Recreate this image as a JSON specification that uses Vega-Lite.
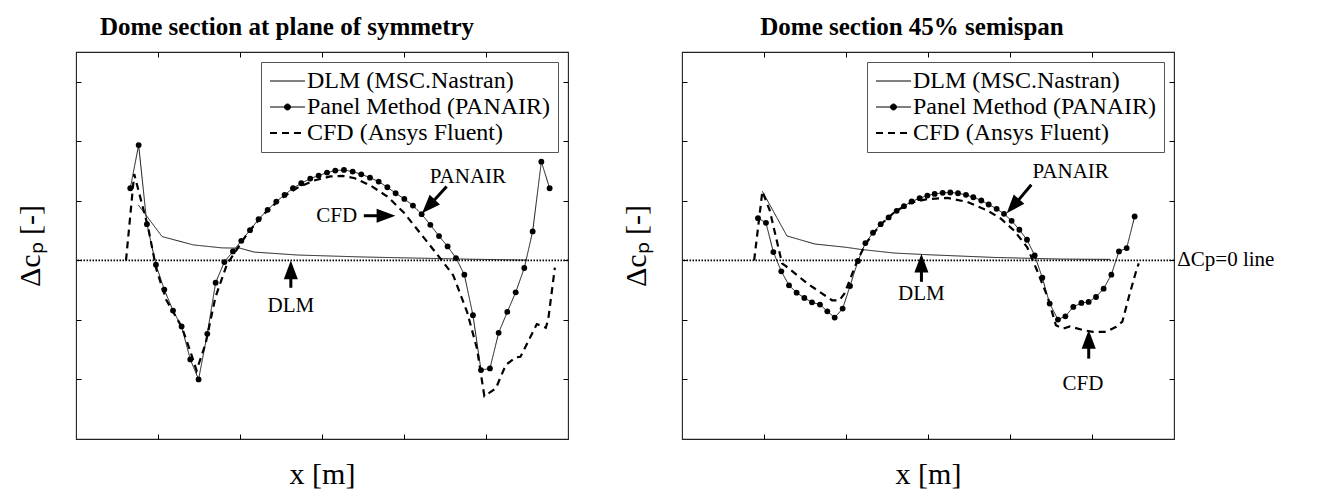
{
  "$schema": "https://vega.github.io/schema/vega-lite/v6.json",
  "background": "white",
  "padding": {"left": 14, "top": 13, "right": 5, "bottom": 5},
  "datasets": {
    "curves": [
      {"panel":"sym","series":"DLM","x":0.76,"y":0.93},{"panel":"sym","series":"DLM","x":1.05,"y":0.40},{"panel":"sym","series":"DLM","x":1.43,"y":0.26},{"panel":"sym","series":"DLM","x":1.78,"y":0.21},{"panel":"sym","series":"DLM","x":2.0,"y":0.205},{"panel":"sym","series":"DLM","x":2.17,"y":0.14},{"panel":"sym","series":"DLM","x":2.7,"y":0.09},{"panel":"sym","series":"DLM","x":3.5,"y":0.057},{"panel":"sym","series":"DLM","x":4.1,"y":0.04},{"panel":"sym","series":"DLM","x":4.8,"y":0.02},{"panel":"sym","series":"DLM","x":5.5,"y":0.005},
      {"panel":"sym","series":"PANAIR","x":0.662,"y":1.212},{"panel":"sym","series":"PANAIR","x":0.764,"y":1.937},{"panel":"sym","series":"PANAIR","x":0.865,"y":0.609},{"panel":"sym","series":"PANAIR","x":0.975,"y":-0.073},{"panel":"sym","series":"PANAIR","x":1.077,"y":-0.491},{"panel":"sym","series":"PANAIR","x":1.183,"y":-0.843},{"panel":"sym","series":"PANAIR","x":1.288,"y":-1.111},{"panel":"sym","series":"PANAIR","x":1.394,"y":-1.664},{"panel":"sym","series":"PANAIR","x":1.495,"y":-1.999},{"panel":"sym","series":"PANAIR","x":1.601,"y":-1.234},{"panel":"sym","series":"PANAIR","x":1.703,"y":-0.374},{"panel":"sym","series":"PANAIR","x":1.809,"y":-0.028},{"panel":"sym","series":"PANAIR","x":1.914,"y":0.151},{"panel":"sym","series":"PANAIR","x":2.016,"y":0.329},{"panel":"sym","series":"PANAIR","x":2.122,"y":0.508},{"panel":"sym","series":"PANAIR","x":2.227,"y":0.692},{"panel":"sym","series":"PANAIR","x":2.337,"y":0.849},{"panel":"sym","series":"PANAIR","x":2.443,"y":0.988},{"panel":"sym","series":"PANAIR","x":2.544,"y":1.1},{"panel":"sym","series":"PANAIR","x":2.646,"y":1.212},{"panel":"sym","series":"PANAIR","x":2.747,"y":1.295},{"panel":"sym","series":"PANAIR","x":2.857,"y":1.374},{"panel":"sym","series":"PANAIR","x":2.959,"y":1.424},{"panel":"sym","series":"PANAIR","x":3.061,"y":1.474},{"panel":"sym","series":"PANAIR","x":3.162,"y":1.508},{"panel":"sym","series":"PANAIR","x":3.268,"y":1.519},{"panel":"sym","series":"PANAIR","x":3.374,"y":1.491},{"panel":"sym","series":"PANAIR","x":3.479,"y":1.446},{"panel":"sym","series":"PANAIR","x":3.585,"y":1.39},{"panel":"sym","series":"PANAIR","x":3.691,"y":1.323},{"panel":"sym","series":"PANAIR","x":3.797,"y":1.228},{"panel":"sym","series":"PANAIR","x":3.898,"y":1.128},{"panel":"sym","series":"PANAIR","x":4.004,"y":1.033},{"panel":"sym","series":"PANAIR","x":4.109,"y":0.921},{"panel":"sym","series":"PANAIR","x":4.215,"y":0.776},{"panel":"sym","series":"PANAIR","x":4.321,"y":0.597},{"panel":"sym","series":"PANAIR","x":4.427,"y":0.408},{"panel":"sym","series":"PANAIR","x":4.532,"y":0.235},{"panel":"sym","series":"PANAIR","x":4.634,"y":0.039},{"panel":"sym","series":"PANAIR","x":4.736,"y":-0.24},{"panel":"sym","series":"PANAIR","x":4.841,"y":-0.921},{"panel":"sym","series":"PANAIR","x":4.939,"y":-1.843},{"panel":"sym","series":"PANAIR","x":5.048,"y":-1.815},{"panel":"sym","series":"PANAIR","x":5.154,"y":-1.217},{"panel":"sym","series":"PANAIR","x":5.26,"y":-0.865},{"panel":"sym","series":"PANAIR","x":5.362,"y":-0.536},{"panel":"sym","series":"PANAIR","x":5.467,"y":-0.128},{"panel":"sym","series":"PANAIR","x":5.569,"y":0.486},{"panel":"sym","series":"PANAIR","x":5.675,"y":1.658},{"panel":"sym","series":"PANAIR","x":5.776,"y":1.212},
      {"panel":"sym","series":"CFD","x":0.61,"y":0},{"panel":"sym","series":"CFD","x":0.71,"y":1.45},{"panel":"sym","series":"CFD","x":0.88,"y":0.55},{"panel":"sym","series":"CFD","x":0.98,"y":-0.15},{"panel":"sym","series":"CFD","x":1.1,"y":-0.66},{"panel":"sym","series":"CFD","x":1.29,"y":-1.12},{"panel":"sym","series":"CFD","x":1.4,"y":-1.55},{"panel":"sym","series":"CFD","x":1.47,"y":-1.85},{"panel":"sym","series":"CFD","x":1.58,"y":-1.4},{"panel":"sym","series":"CFD","x":1.7,"y":-0.62},{"panel":"sym","series":"CFD","x":1.84,"y":-0.07},{"panel":"sym","series":"CFD","x":1.95,"y":0.16},{"panel":"sym","series":"CFD","x":2.1,"y":0.47},{"panel":"sym","series":"CFD","x":2.3,"y":0.79},{"panel":"sym","series":"CFD","x":2.5,"y":1.04},{"panel":"sym","series":"CFD","x":2.7,"y":1.22},{"panel":"sym","series":"CFD","x":2.9,"y":1.34},{"panel":"sym","series":"CFD","x":3.1,"y":1.41},{"panel":"sym","series":"CFD","x":3.25,"y":1.42},{"panel":"sym","series":"CFD","x":3.4,"y":1.38},{"panel":"sym","series":"CFD","x":3.6,"y":1.25},{"panel":"sym","series":"CFD","x":3.8,"y":1.07},{"panel":"sym","series":"CFD","x":4.0,"y":0.8},{"panel":"sym","series":"CFD","x":4.22,"y":0.42},{"panel":"sym","series":"CFD","x":4.45,"y":0.02},{"panel":"sym","series":"CFD","x":4.6,"y":-0.25},{"panel":"sym","series":"CFD","x":4.77,"y":-0.87},{"panel":"sym","series":"CFD","x":4.89,"y":-1.48},{"panel":"sym","series":"CFD","x":4.98,"y":-2.28},{"panel":"sym","series":"CFD","x":5.12,"y":-2.15},{"panel":"sym","series":"CFD","x":5.24,"y":-1.76},{"panel":"sym","series":"CFD","x":5.36,"y":-1.63},{"panel":"sym","series":"CFD","x":5.42,"y":-1.62},{"panel":"sym","series":"CFD","x":5.62,"y":-1.07},{"panel":"sym","series":"CFD","x":5.73,"y":-1.13},{"panel":"sym","series":"CFD","x":5.76,"y":-0.98},{"panel":"sym","series":"CFD","x":5.84,"y":-0.12},
      {"panel":"semi","series":"DLM","x":0.98,"y":1.16},{"panel":"semi","series":"DLM","x":1.28,"y":0.41},{"panel":"semi","series":"DLM","x":1.62,"y":0.275},{"panel":"semi","series":"DLM","x":2.0,"y":0.22},{"panel":"semi","series":"DLM","x":2.18,"y":0.184},{"panel":"semi","series":"DLM","x":2.59,"y":0.123},{"panel":"semi","series":"DLM","x":3.0,"y":0.095},{"panel":"semi","series":"DLM","x":3.8,"y":0.05},{"panel":"semi","series":"DLM","x":4.62,"y":0.022},{"panel":"semi","series":"DLM","x":5.22,"y":0.017},
      {"panel":"semi","series":"PANAIR","x":0.927,"y":0.709},{"panel":"semi","series":"PANAIR","x":1.024,"y":0.631},{"panel":"semi","series":"PANAIR","x":1.114,"y":0.14},{"panel":"semi","series":"PANAIR","x":1.211,"y":-0.184},{"panel":"semi","series":"PANAIR","x":1.305,"y":-0.419},{"panel":"semi","series":"PANAIR","x":1.398,"y":-0.542},{"panel":"semi","series":"PANAIR","x":1.492,"y":-0.631},{"panel":"semi","series":"PANAIR","x":1.585,"y":-0.704},{"panel":"semi","series":"PANAIR","x":1.683,"y":-0.743},{"panel":"semi","series":"PANAIR","x":1.772,"y":-0.855},{"panel":"semi","series":"PANAIR","x":1.862,"y":-0.961},{"panel":"semi","series":"PANAIR","x":1.959,"y":-0.81},{"panel":"semi","series":"PANAIR","x":2.049,"y":-0.43},{"panel":"semi","series":"PANAIR","x":2.146,"y":-0.011},{"panel":"semi","series":"PANAIR","x":2.236,"y":0.291},{"panel":"semi","series":"PANAIR","x":2.329,"y":0.464},{"panel":"semi","series":"PANAIR","x":2.423,"y":0.609},{"panel":"semi","series":"PANAIR","x":2.52,"y":0.721},{"panel":"semi","series":"PANAIR","x":2.618,"y":0.832},{"panel":"semi","series":"PANAIR","x":2.707,"y":0.911},{"panel":"semi","series":"PANAIR","x":2.801,"y":0.989},{"panel":"semi","series":"PANAIR","x":2.898,"y":1.045},{"panel":"semi","series":"PANAIR","x":2.992,"y":1.089},{"panel":"semi","series":"PANAIR","x":3.081,"y":1.117},{"panel":"semi","series":"PANAIR","x":3.179,"y":1.134},{"panel":"semi","series":"PANAIR","x":3.272,"y":1.14},{"panel":"semi","series":"PANAIR","x":3.366,"y":1.128},{"panel":"semi","series":"PANAIR","x":3.463,"y":1.101},{"panel":"semi","series":"PANAIR","x":3.553,"y":1.061},{"panel":"semi","series":"PANAIR","x":3.65,"y":1.006},{"panel":"semi","series":"PANAIR","x":3.74,"y":0.939},{"panel":"semi","series":"PANAIR","x":3.837,"y":0.866},{"panel":"semi","series":"PANAIR","x":3.927,"y":0.782},{"panel":"semi","series":"PANAIR","x":4.02,"y":0.665},{"panel":"semi","series":"PANAIR","x":4.114,"y":0.514},{"panel":"semi","series":"PANAIR","x":4.207,"y":0.346},{"panel":"semi","series":"PANAIR","x":4.301,"y":0.084},{"panel":"semi","series":"PANAIR","x":4.394,"y":-0.291},{"panel":"semi","series":"PANAIR","x":4.484,"y":-0.726},{"panel":"semi","series":"PANAIR","x":4.585,"y":-0.994},{"panel":"semi","series":"PANAIR","x":4.675,"y":-0.939},{"panel":"semi","series":"PANAIR","x":4.772,"y":-0.782},{"panel":"semi","series":"PANAIR","x":4.87,"y":-0.715},{"panel":"semi","series":"PANAIR","x":4.959,"y":-0.698},{"panel":"semi","series":"PANAIR","x":5.049,"y":-0.615},{"panel":"semi","series":"PANAIR","x":5.142,"y":-0.475},{"panel":"semi","series":"PANAIR","x":5.236,"y":-0.24},{"panel":"semi","series":"PANAIR","x":5.329,"y":0.151},{"panel":"semi","series":"PANAIR","x":5.423,"y":0.207},{"panel":"semi","series":"PANAIR","x":5.52,"y":0.737},
      {"panel":"semi","series":"CFD","x":0.88,"y":0},{"panel":"semi","series":"CFD","x":0.98,"y":1.16},{"panel":"semi","series":"CFD","x":1.07,"y":0.84},{"panel":"semi","series":"CFD","x":1.22,"y":-0.05},{"panel":"semi","series":"CFD","x":1.29,"y":-0.12},{"panel":"semi","series":"CFD","x":1.53,"y":-0.39},{"panel":"semi","series":"CFD","x":1.83,"y":-0.67},{"panel":"semi","series":"CFD","x":1.92,"y":-0.67},{"panel":"semi","series":"CFD","x":1.98,"y":-0.56},{"panel":"semi","series":"CFD","x":2.06,"y":-0.28},{"panel":"semi","series":"CFD","x":2.14,"y":0.0},{"panel":"semi","series":"CFD","x":2.24,"y":0.28},{"panel":"semi","series":"CFD","x":2.42,"y":0.6},{"panel":"semi","series":"CFD","x":2.6,"y":0.82},{"panel":"semi","series":"CFD","x":2.79,"y":0.97},{"panel":"semi","series":"CFD","x":2.99,"y":1.03},{"panel":"semi","series":"CFD","x":3.24,"y":1.05},{"panel":"semi","series":"CFD","x":3.48,"y":0.98},{"panel":"semi","series":"CFD","x":3.72,"y":0.84},{"panel":"semi","series":"CFD","x":3.89,"y":0.7},{"panel":"semi","series":"CFD","x":4.05,"y":0.5},{"panel":"semi","series":"CFD","x":4.21,"y":0.22},{"panel":"semi","series":"CFD","x":4.33,"y":-0.17},{"panel":"semi","series":"CFD","x":4.46,"y":-0.62},{"panel":"semi","series":"CFD","x":4.56,"y":-1.09},{"panel":"semi","series":"CFD","x":4.65,"y":-1.145},{"panel":"semi","series":"CFD","x":4.73,"y":-1.11},{"panel":"semi","series":"CFD","x":4.89,"y":-1.17},{"panel":"semi","series":"CFD","x":5.01,"y":-1.2},{"panel":"semi","series":"CFD","x":5.17,"y":-1.2},{"panel":"semi","series":"CFD","x":5.29,"y":-1.12},{"panel":"semi","series":"CFD","x":5.37,"y":-1.03},{"panel":"semi","series":"CFD","x":5.45,"y":-0.61},{"panel":"semi","series":"CFD","x":5.53,"y":-0.22},{"panel":"semi","series":"CFD","x":5.57,"y":-0.05}
    ],
    "notes": [
      {"panel":"sym","kind":"text","label":"PANAIR","x":4.78,"y":1.40},
      {"panel":"sym","kind":"text","label":"CFD","x":3.18,"y":0.75},
      {"panel":"sym","kind":"text","label":"DLM","x":2.62,"y":-0.76},
      {"panel":"semi","kind":"text","label":"PANAIR","x":4.74,"y":1.48},
      {"panel":"semi","kind":"text","label":"DLM","x":2.92,"y":-0.57},
      {"panel":"semi","kind":"text","label":"CFD","x":4.89,"y":-2.08},
      {"panel":"sym","kind":"shaft","x":4.52,"y":1.24,"x2":4.287,"y2":0.888},
      {"panel":"sym","kind":"shaft","x":3.51,"y":0.75,"x2":3.795,"y2":0.75},
      {"panel":"sym","kind":"shaft","x":2.62,"y":-0.46,"x2":2.62,"y2":-0.134},
      {"panel":"semi","kind":"shaft","x":4.26,"y":1.27,"x2":4.027,"y2":0.888},
      {"panel":"semi","kind":"shaft","x":2.92,"y":-0.36,"x2":2.92,"y2":-0.024},
      {"panel":"semi","kind":"shaft","x":4.96,"y":-1.65,"x2":4.96,"y2":-1.304},
      {"panel":"sym","kind":"head","dir":"downleft","x":4.22,"y":0.79},
      {"panel":"sym","kind":"head","dir":"right","x":3.895,"y":0.75},
      {"panel":"sym","kind":"head","dir":"up","x":2.62,"y":0.0},
      {"panel":"semi","kind":"head","dir":"downleft","x":3.96,"y":0.79},
      {"panel":"semi","kind":"head","dir":"up","x":2.92,"y":0.11},
      {"panel":"semi","kind":"head","dir":"up","x":4.96,"y":-1.17}
    ]
  },
  "hconcat": [
    {
      "width": 492, "height": 387,
      "title": {"text": "Dome section at plane of symmetry", "font": "Liberation Serif", "fontSize": 25, "fontWeight": "bold", "color": "black", "anchor": "middle", "dx": -35, "offset": 12},
      "layer": [
        {
          "encoding": {
            "x": {"field": "x", "type": "quantitative", "scale": {"domain": [0, 6], "nice": false, "zero": false}, "axis": {"values": [1,2,3,4,5], "title": "x [m]", "titlePadding": 20}},
            "y": {"field": "y", "type": "quantitative", "scale": {"domain": [-3, 3.5], "nice": false, "zero": false}, "axis": {"values": [-2,-1,0,1,2,3], "title": "Δcₚ [-]", "titlePadding": 30}}
          },
          "layer": [
            {"data": {"values": [{"y": 0}]}, "mark": {"type": "rule", "color": "black", "strokeDash": [1.5, 1.5], "strokeWidth": 1.6}, "encoding": {"x": null}},
            {"data": {"name": "curves"}, "transform": [{"filter": "datum.panel === 'sym' && datum.series !== 'CFD'"}],
             "mark": {"type": "line", "color": "black", "strokeWidth": 0.9},
             "encoding": {
               "strokeDash": {"field": "series", "type": "nominal", "scale": {"domain": ["DLM", "PANAIR", "CFD"], "range": [[1, 0], [1, 0], [7, 5]]},
                 "legend": {"title": null, "orient": "top-right", "offset": 10, "padding": 7, "strokeColor": "#555", "fillColor": "white", "labelFont": "Liberation Serif", "labelFontSize": 24, "labelColor": "black", "labelOffset": 15, "labelLimit": 500, "rowPadding": 2, "symbolSize": 400, "symbolStrokeColor": "black", "symbolStrokeWidth": 1,
                   "labelExpr": "datum.label === 'DLM' ? 'DLM (MSC.Nastran)' : datum.label === 'PANAIR' ? 'Panel Method (PANAIR)' : 'CFD (Ansys Fluent)'",
                   "encode": {"symbols": {"update": {
                     "shape": {"signal": "datum.value === 'PANAIR' ? 'M-1,0H2.5M1.05,0A0.3,0.3,0,1,1,0.45,0A0.3,0.3,0,1,1,1.05,0Z' : 'M-1,0H2.5'"},
                     "fill": {"value": "black"},
                     "stroke": {"value": "black"},
                     "opacity": {"value": 1},
                     "strokeOpacity": {"value": 1},
                     "strokeWidth": {"signal": "datum.value === 'CFD' ? 2.2 : 1"}}}}}}
             }},
            {"data": {"name": "curves"}, "transform": [{"filter": "datum.panel === 'sym' && datum.series === 'CFD'"}],
             "mark": {"type": "line", "color": "black", "strokeWidth": 2.2, "strokeDash": [7, 5], "strokeCap": "butt"}},
            {"data": {"name": "curves"}, "transform": [{"filter": "datum.panel === 'sym' && datum.series === 'PANAIR'"}],
             "mark": {"type": "point", "filled": true, "color": "black", "size": 34, "opacity": 1}},
            {"data": {"name": "notes"}, "transform": [{"filter": "datum.panel === 'sym' && datum.kind === 'shaft'"}],
             "mark": {"type": "rule", "color": "black", "strokeWidth": 3},
             "encoding": {"x2": {"field": "x2"}, "y2": {"field": "y2"}}},
            {"data": {"name": "notes"}, "transform": [{"filter": "datum.panel === 'sym' && datum.dir === 'up'"}],
             "mark": {"type": "point", "shape": "M0,0L0.6,1.6L-0.6,1.6Z", "size": 550, "filled": true, "color": "black", "opacity": 1, "angle": 0}},
            {"data": {"name": "notes"}, "transform": [{"filter": "datum.panel === 'sym' && datum.dir === 'right'"}],
             "mark": {"type": "point", "shape": "M0,0L0.6,1.6L-0.6,1.6Z", "size": 550, "filled": true, "color": "black", "opacity": 1, "angle": 90}},
            {"data": {"name": "notes"}, "transform": [{"filter": "datum.panel === 'sym' && datum.dir === 'downleft'"}],
             "mark": {"type": "point", "shape": "M0,0L0.6,1.6L-0.6,1.6Z", "size": 550, "filled": true, "color": "black", "opacity": 1, "angle": 223}},
            {"data": {"name": "notes"}, "transform": [{"filter": "datum.panel === 'sym' && datum.kind === 'text'"}],
             "mark": {"type": "text", "font": "Liberation Serif", "fontSize": 21, "color": "black", "align": "center", "baseline": "middle"},
             "encoding": {"text": {"field": "label"}}}
          ]
        },
        {
          "data": {"values": [{"x": 3, "y": 0}]},
          "mark": {"type": "point", "opacity": 0},
          "encoding": {
            "x": {"field": "x", "type": "quantitative", "scale": {"domain": [0, 6], "nice": false, "zero": false}, "axis": {"orient": "top", "values": [1,2,3,4,5], "title": null}},
            "y": {"field": "y", "type": "quantitative", "scale": {"domain": [-3, 3.5], "nice": false, "zero": false}, "axis": {"orient": "right", "values": [-2,-1,0,1,2,3], "title": null}}
          }
        }
      ],
      "resolve": {"axis": {"x": "independent", "y": "independent"}}
    },
    {
      "width": 492, "height": 387,
      "title": {"text": "Dome section 45% semispan", "font": "Liberation Serif", "fontSize": 25, "fontWeight": "bold", "color": "black", "anchor": "middle", "dx": -16, "offset": 12},
      "layer": [
        {
          "encoding": {
            "x": {"field": "x", "type": "quantitative", "scale": {"domain": [0, 6], "nice": false, "zero": false}, "axis": {"values": [1,2,3,4,5], "title": "x [m]", "titlePadding": 20}},
            "y": {"field": "y", "type": "quantitative", "scale": {"domain": [-3, 3.5], "nice": false, "zero": false}, "axis": {"values": [-2,-1,0,1,2,3], "title": "Δcₚ [-]", "titlePadding": 30}}
          },
          "layer": [
            {"data": {"values": [{"y": 0}]}, "mark": {"type": "rule", "color": "black", "strokeDash": [1.5, 1.5], "strokeWidth": 1.6}, "encoding": {"x": null}},
            {"data": {"name": "curves"}, "transform": [{"filter": "datum.panel === 'semi' && datum.series !== 'CFD'"}],
             "mark": {"type": "line", "color": "black", "strokeWidth": 0.9},
             "encoding": {
               "strokeDash": {"field": "series", "type": "nominal", "scale": {"domain": ["DLM", "PANAIR", "CFD"], "range": [[1, 0], [1, 0], [7, 5]]},
                 "legend": {"title": null, "orient": "top-right", "offset": 10, "padding": 7, "strokeColor": "#555", "fillColor": "white", "labelFont": "Liberation Serif", "labelFontSize": 24, "labelColor": "black", "labelOffset": 15, "labelLimit": 500, "rowPadding": 2, "symbolSize": 400, "symbolStrokeColor": "black", "symbolStrokeWidth": 1,
                   "labelExpr": "datum.label === 'DLM' ? 'DLM (MSC.Nastran)' : datum.label === 'PANAIR' ? 'Panel Method (PANAIR)' : 'CFD (Ansys Fluent)'",
                   "encode": {"symbols": {"update": {
                     "shape": {"signal": "datum.value === 'PANAIR' ? 'M-1,0H2.5M1.05,0A0.3,0.3,0,1,1,0.45,0A0.3,0.3,0,1,1,1.05,0Z' : 'M-1,0H2.5'"},
                     "fill": {"value": "black"},
                     "stroke": {"value": "black"},
                     "opacity": {"value": 1},
                     "strokeOpacity": {"value": 1},
                     "strokeWidth": {"signal": "datum.value === 'CFD' ? 2.2 : 1"}}}}}}
             }},
            {"data": {"name": "curves"}, "transform": [{"filter": "datum.panel === 'semi' && datum.series === 'CFD'"}],
             "mark": {"type": "line", "color": "black", "strokeWidth": 2.2, "strokeDash": [7, 5], "strokeCap": "butt"}},
            {"data": {"name": "curves"}, "transform": [{"filter": "datum.panel === 'semi' && datum.series === 'PANAIR'"}],
             "mark": {"type": "point", "filled": true, "color": "black", "size": 34, "opacity": 1}},
            {"data": {"name": "notes"}, "transform": [{"filter": "datum.panel === 'semi' && datum.kind === 'shaft'"}],
             "mark": {"type": "rule", "color": "black", "strokeWidth": 3},
             "encoding": {"x2": {"field": "x2"}, "y2": {"field": "y2"}}},
            {"data": {"name": "notes"}, "transform": [{"filter": "datum.panel === 'semi' && datum.dir === 'up'"}],
             "mark": {"type": "point", "shape": "M0,0L0.6,1.6L-0.6,1.6Z", "size": 550, "filled": true, "color": "black", "opacity": 1, "angle": 0}},
            {"data": {"name": "notes"}, "transform": [{"filter": "datum.panel === 'semi' && datum.dir === 'downleft'"}],
             "mark": {"type": "point", "shape": "M0,0L0.6,1.6L-0.6,1.6Z", "size": 550, "filled": true, "color": "black", "opacity": 1, "angle": 221}},
            {"data": {"name": "notes"}, "transform": [{"filter": "datum.panel === 'semi' && datum.kind === 'text'"}],
             "mark": {"type": "text", "font": "Liberation Serif", "fontSize": 21, "color": "black", "align": "center", "baseline": "middle"},
             "encoding": {"text": {"field": "label"}}},
            {"data": {"values": [{"label": "ΔCp=0 line", "x": 6.04, "y": 0}]},
             "mark": {"type": "text", "font": "Liberation Serif", "fontSize": 21, "color": "black", "align": "left", "baseline": "middle", "clip": false},
             "encoding": {"text": {"field": "label"}}}
          ]
        },
        {
          "data": {"values": [{"x": 3, "y": 0}]},
          "mark": {"type": "point", "opacity": 0},
          "encoding": {
            "x": {"field": "x", "type": "quantitative", "scale": {"domain": [0, 6], "nice": false, "zero": false}, "axis": {"orient": "top", "values": [1,2,3,4,5], "title": null}},
            "y": {"field": "y", "type": "quantitative", "scale": {"domain": [-3, 3.5], "nice": false, "zero": false}, "axis": {"orient": "right", "values": [-2,-1,0,1,2,3], "title": null}}
          }
        }
      ],
      "resolve": {"axis": {"x": "independent", "y": "independent"}}
    }
  ],
  "spacing": 50,
  "resolve": {"scale": {"x": "independent", "y": "independent", "strokeDash": "independent"}, "legend": {"strokeDash": "independent"}},
  "config": {
    "view": {"stroke": "#222", "strokeWidth": 1.1},
    "axis": {"labels": false, "grid": false, "domain": false, "ticks": true, "tickColor": "black", "tickSize": -5, "tickWidth": 1, "titleFont": "Liberation Serif", "titleFontSize": 30, "titleFontWeight": "normal", "titleColor": "black"},
    "font": "Liberation Serif"
  }
}
